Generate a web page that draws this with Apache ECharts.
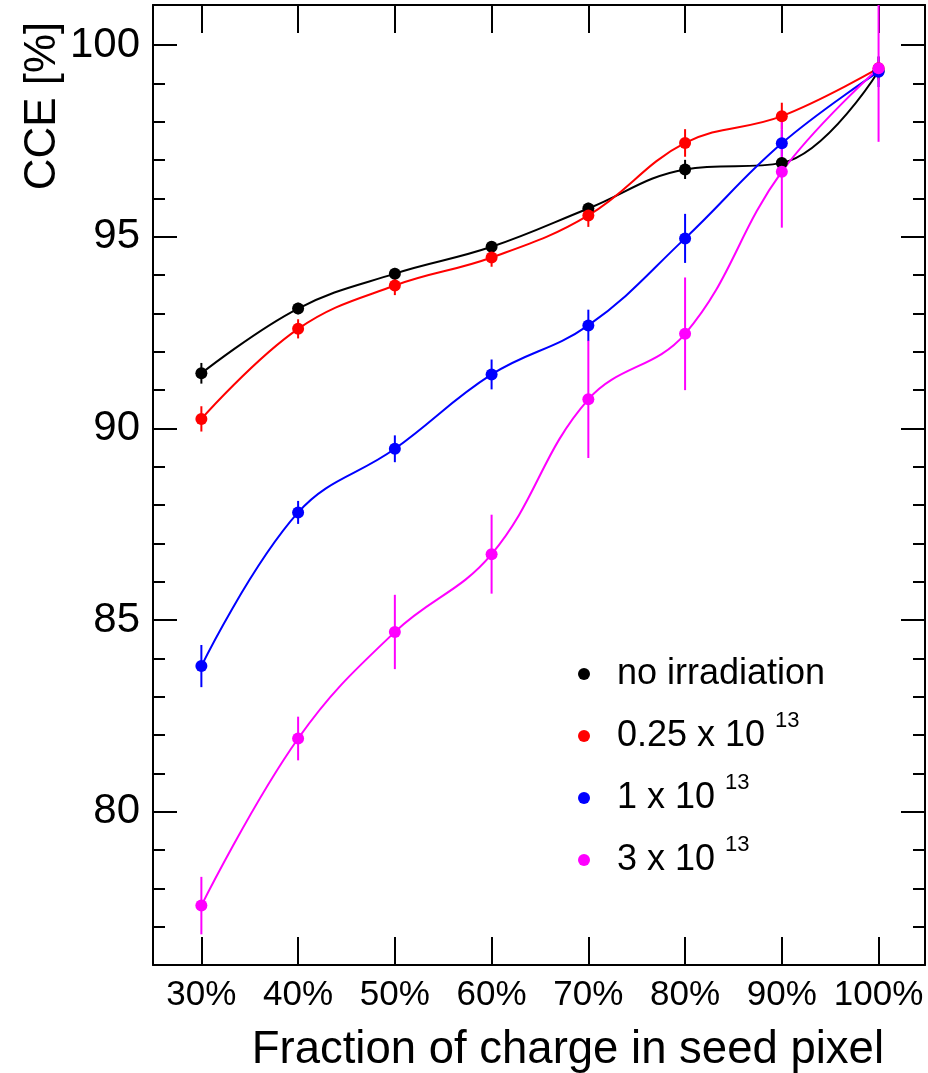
<!DOCTYPE html>
<html>
<head>
<meta charset="utf-8">
<script src="https://cdn.jsdelivr.net/npm/echarts@6/dist/echarts.min.js"></script>
<style>
  html, body { margin: 0; padding: 0; background: #ffffff; }
  #chart { width: 928px; height: 1073px; }
</style>
</head>
<body>
<div id="chart"></div>
<script>
// Fraction of charge in the seed pixel (x positions, %)
const fractions = [30, 40, 50, 60, 70, 80, 90, 100];

// Charge collection efficiency [%] and its uncertainty for each fluence
const seriesNames = ['no irradiation', '0.25 x 10^13', '1 x 10^13', '3 x 10^13'];
const seriesColors = ['#000000', '#ff0000', '#0000ff', '#ff00ff'];

const cceNoIrr   = [91.44, 93.13, 94.04, 94.74, 95.74, 96.76, 96.93, 99.33];
const errNoIrr   = [0.27, 0.15, 0.15, 0.15, 0.15, 0.25, 0.15, 0.20];

const cce025     = [90.25, 92.60, 93.73, 94.46, 95.56, 97.45, 98.15, 99.40];
const err025     = [0.33, 0.25, 0.25, 0.24, 0.30, 0.36, 0.35, 0.30];

const cce1       = [83.80, 87.81, 89.47, 91.41, 92.69, 94.96, 97.44, 99.31];
const err1       = [0.55, 0.30, 0.35, 0.39, 0.41, 0.64, 0.35, 0.40];

const cce3       = [77.55, 81.91, 84.69, 86.72, 90.76, 92.47, 96.70, 99.40];
const err3       = [0.75, 0.57, 0.97, 1.03, 1.53, 1.47, 1.46, 1.92];

// Axis ticks
const xTicks = [30, 40, 50, 60, 70, 80, 90, 100];
const yMajorTicks = [80, 85, 90, 95, 100];
const yMinorTicks = [77, 78, 79, 81, 82, 83, 84, 86, 87, 88, 89, 91, 92, 93, 94, 96, 97, 98, 99];

const FONT = "'Liberation Sans', Arial, Helvetica, sans-serif";
const X_MIN = 25, X_MAX = 104.8;
const Y_MIN = 76, Y_MAX = 101.05;

const values = [cceNoIrr, cce025, cce1, cce3];
const errors = [errNoIrr, err025, err1, err3];

function lineSeries(idx) {
  return {
    type: 'line',
    name: seriesNames[idx],
    data: fractions.map((f, i) => [f, values[idx][i]]),
    smooth: 0.4,
    symbol: 'circle',
    symbolSize: 12,
    showSymbol: true,
    itemStyle: { color: seriesColors[idx] },
    lineStyle: { color: seriesColors[idx], width: 2 },
    emphasis: { disabled: true },
    animation: false
  };
}

function errorSeries(idx) {
  const color = seriesColors[idx];
  return {
    type: 'custom',
    name: seriesNames[idx] + ' error',
    data: fractions.map((f, i) => [f, values[idx][i] - errors[idx][i], values[idx][i] + errors[idx][i]]),
    renderItem: function (params, api) {
      const x = api.value(0);
      const lo = api.coord([x, api.value(1)]);
      const hi = api.coord([x, api.value(2)]);
      const cs = params.coordSys;
      const yBottom = Math.min(lo[1], cs.y + cs.height);
      const yTop = Math.max(hi[1], cs.y);
      return {
        type: 'line',
        shape: { x1: lo[0], y1: yBottom, x2: lo[0], y2: yTop },
        style: { stroke: color, lineWidth: 2 }
      };
    },
    silent: true,
    animation: false
  };
}

const series = [];
for (let k = 0; k < 4; k++) {
  series.push(lineSeries(k));
  series.push(errorSeries(k));
}

function legendText(name) {
  const parts = name.split('^');
  if (parts.length === 1) return '{m|' + name + '}';
  return '{m|' + parts[0] + ' }{s|' + parts[1] + '}';
}

function yAxisDef(position, ticks, len, withLabels, withLine) {
  return {
    type: 'value',
    position: position,
    min: Y_MIN,
    max: Y_MAX,
    axisLine: { show: withLine, lineStyle: { color: '#000', width: 2 } },
    axisTick: { show: true, inside: true, length: len, customValues: ticks, lineStyle: { color: '#000', width: 2 } },
    axisLabel: withLabels ? {
      show: true, customValues: ticks, fontSize: 42, fontFamily: FONT, color: '#000', margin: 13
    } : { show: false },
    splitLine: { show: false }
  };
}

function xAxisDef(position, withLabels) {
  return {
    type: 'value',
    position: position,
    min: X_MIN,
    max: X_MAX,
    axisLine: { show: true, onZero: false, lineStyle: { color: '#000', width: 2 } },
    axisTick: { show: true, inside: true, length: 28, customValues: xTicks, lineStyle: { color: '#000', width: 2 } },
    axisLabel: withLabels ? {
      show: true, customValues: xTicks, fontSize: 35, fontFamily: FONT, color: '#000', margin: 13,
      formatter: v => v + '%'
    } : { show: false },
    splitLine: { show: false }
  };
}

const chart = echarts.init(document.getElementById('chart'), null, { renderer: 'canvas' });
chart.setOption({
  backgroundColor: '#ffffff',
  animation: false,
  grid: { left: 153, right: 3, top: 5, bottom: 108, containLabel: false },
  xAxis: [xAxisDef('bottom', true), xAxisDef('top', false)],
  yAxis: [
    yAxisDef('left', yMajorTicks, 24, true, true),
    yAxisDef('left', yMinorTicks, 12, false, false),
    yAxisDef('right', yMajorTicks, 24, false, true),
    yAxisDef('right', yMinorTicks, 12, false, false)
  ],
  legend: {
    show: true,
    orient: 'vertical',
    left: 573,
    top: 651,
    itemWidth: 12,
    itemHeight: 12,
    itemGap: 18,
    icon: 'circle',
    selectedMode: false,
    data: seriesNames,
    formatter: legendText,
    textStyle: {
      fontFamily: FONT,
      color: '#000',
      rich: {
        m: { fontSize: 36, lineHeight: 52, fontFamily: FONT, color: '#000', padding: [0, 0, 0, 22] },
        s: { fontSize: 22, lineHeight: 2, verticalAlign: 'top', fontFamily: FONT, color: '#000' }
      }
    }
  },
  graphic: [
    {
      type: 'text',
      x: 43, y: 106,
      rotation: Math.PI / 2,
      style: {
        text: 'CCE [%]', fontSize: 44, fontFamily: FONT, fill: '#000',
        align: 'center', verticalAlign: 'middle'
      }
    },
    {
      type: 'text',
      x: 884, y: 1050,
      style: {
        text: 'Fraction of charge in seed pixel', fontSize: 45.5, fontFamily: FONT, fill: '#000',
        align: 'right', verticalAlign: 'middle'
      }
    }
  ],
  series: series
});
</script>
</body>
</html>
